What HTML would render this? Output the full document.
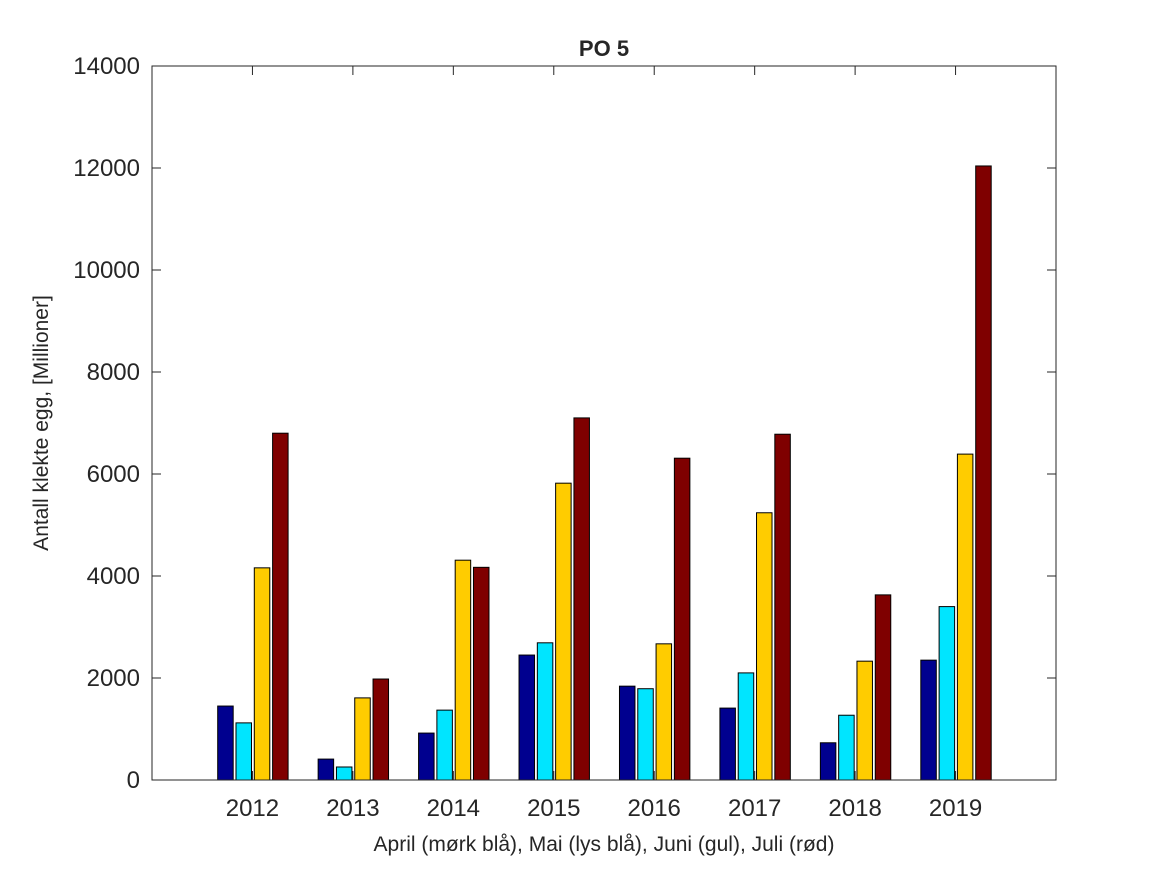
<!DOCTYPE html>
<html><head><meta charset="utf-8"><style>
body{margin:0;background:#fff;}
text{font-family:"Liberation Sans",sans-serif;fill:#262626;}
</style></head><body>
<svg id="chart" width="1167" height="875" xmlns="http://www.w3.org/2000/svg">
<rect width="1167" height="875" fill="#fff"/>
<g id="bars"></g>
<rect x="152" y="66" width="904" height="714" fill="none" stroke="#262626" stroke-width="1"/>
<g id="ticks"></g>
<text x="604" y="56" text-anchor="middle" font-size="22" font-weight="bold" fill="#000">PO 5</text>
<text transform="translate(48,423) rotate(-90)" text-anchor="middle" font-size="21">Antall klekte egg, [Millioner]</text>
<text x="604" y="851" text-anchor="middle" font-size="21">April (mørk blå), Mai (lys blå), Juni (gul), Juli (rød)</text>
</svg>
<script>
const years=[2012,2013,2014,2015,2016,2017,2018,2019];
const april=[1450,410,920,2450,1840,1410,730,2350];
const mai=[1120,255,1370,2690,1790,2100,1270,3400];
const juni=[4160,1610,4310,5820,2670,5240,2330,6390];
const juli=[6800,1980,4170,7100,6310,6780,3630,12040];
const yTicks=[0,2000,4000,6000,8000,10000,12000,14000];
const NS="http://www.w3.org/2000/svg";
const x=v=>152+(v-2011)*904/9;
const y=v=>780-v*714/14000;
const series=[[april,"#00008F","april"],[mai,"#00E5FF","mai"],[juni,"#FFCC00","juni"],[juli,"#7F0000","juli"]];
const offs=[-27,-8.7,9.6,27.9];
const bw=15.5;
const gb=document.getElementById('bars');
series.forEach((s,si)=>{s[0].forEach((v,i)=>{
 const r=document.createElementNS(NS,'rect');
 const cx=x(years[i])+offs[si];
 r.setAttribute('x',cx-bw/2);r.setAttribute('y',y(v));
 r.setAttribute('width',bw);r.setAttribute('height',780-y(v));
 r.setAttribute('fill',s[1]);r.setAttribute('stroke','#000');r.setAttribute('stroke-width','1');
 
 
 gb.appendChild(r);});});
const gt=document.getElementById('ticks');
function ln(x1,y1,x2,y2){const l=document.createElementNS(NS,'line');l.setAttribute('x1',x1);l.setAttribute('y1',y1);l.setAttribute('x2',x2);l.setAttribute('y2',y2);l.setAttribute('stroke','#262626');


gt.appendChild(l);}
yTicks.forEach(t=>{const yy=y(t);ln(152,yy,161,yy);ln(1056,yy,1047,yy);
 const tx=document.createElementNS(NS,'text');tx.setAttribute('x',140);tx.setAttribute('y',yy+8);tx.setAttribute('text-anchor','end');tx.setAttribute('font-size','24');tx.textContent=t;
 
 
 gt.appendChild(tx);});
years.forEach(yr=>{const xx=x(yr);ln(xx,780,xx,771);ln(xx,66,xx,75);
 const tx=document.createElementNS(NS,'text');tx.setAttribute('x',xx);tx.setAttribute('y',816);tx.setAttribute('text-anchor','middle');tx.setAttribute('font-size','24');tx.textContent=yr;
 
 
 gt.appendChild(tx);});
</script>
</body></html>
